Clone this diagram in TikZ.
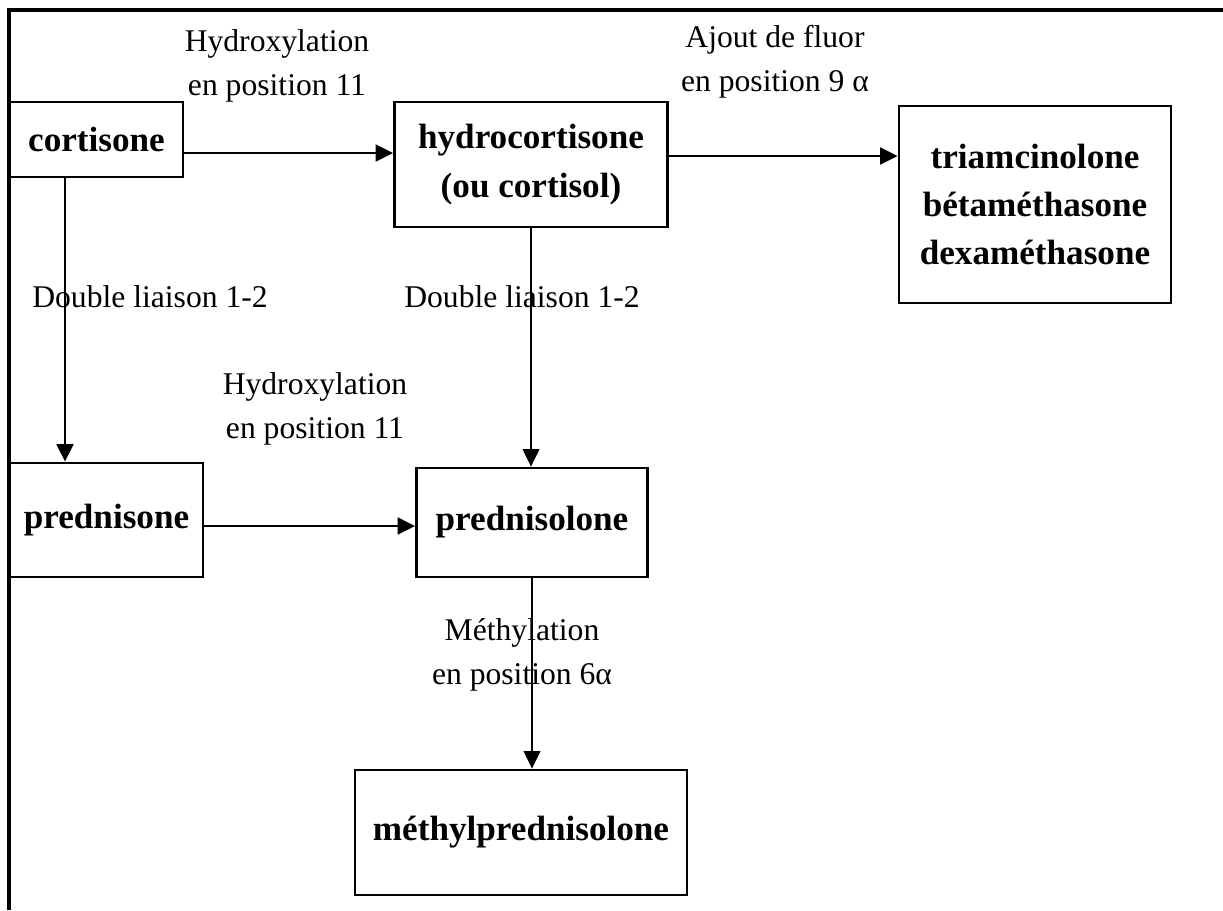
\documentclass[tikz,border=0pt]{standalone}
\usepackage{fontspec}
\setmainfont{Liberation Serif}
\usetikzlibrary{arrows.meta}

\begin{document}
\begin{tikzpicture}[line join=miter,x=0.02cm,y=-0.02cm,>={Triangle[length=10pt,width=9.5pt]},
    box/.style={draw,line width=1.6pt,inner sep=0pt,align=center,font=\fontsize{20}{27.5}\selectfont\bfseries},
    lbl/.style={align=center,inner sep=0pt,font=\fontsize{18}{25}\selectfont},
    fleche/.style={->,line width=1.6pt},
    fine/.style={->,line width=1pt}]
                \useasboundingbox (0,0) rectangle (1223,910);
                % cadre
                \draw [line width=2.3pt] (9,910)-- (9,10)-- (1223,10);
                % molecules
                \node [box,minimum width=3.46cm,minimum height=1.5cm] (cort) at (96.5,139.5) {cortisone};
                \node [box,minimum width=5.46cm,minimum height=2.5cm] (hydro) at (531,164.5) {hydrocortisone\\(ou cortisol)};
                \node [box,minimum width=5.44cm,minimum height=3.94cm] (triam) at (1035,204.5) {triamcinolone\\bétaméthasone\\dexaméthasone};
                \node [box,minimum width=3.86cm,minimum height=2.28cm] (pred) at (106.5,520) {prednisone};
                \node [box,minimum width=4.62cm,minimum height=2.18cm] (pnl) at (532,522.5) {prednisolone};
                \node [box,minimum width=6.64cm,minimum height=2.5cm] (mp) at (521,832.5) {méthylprednisolone};
                % niveaux des fleches
                \coordinate (hA) at (0,153);
                \coordinate (hB) at (0,156);
                \coordinate (hC) at (0,526);
                \coordinate (vA) at (65,0);
                \draw [fleche] (cort.east |- hA)-- (hydro.west |- hA);
                \draw [fleche] (hydro.east |- hB)-- (triam.west |- hB);
                \draw [fleche] (cort.south -| vA)-- (pred.north -| vA);
                \draw [fine] (hydro.south)-- (pnl.north -| hydro.south);
                \draw [fleche] (pred.east |- hC)-- (pnl.west |- hC);
                \draw [fine] (pnl.south)-- (mp.north -| pnl.south);
                % reactions
                \node [lbl] (hydroxA) at (277,66) {Hydroxylation\\en position 11};
                \node [lbl] (fluor) at (775,62) {Ajout de fluor\\en position 9 α};
                \node [lbl] (liaisonA) at (150,297) {Double liaison 1-2};
                \node [lbl] (liaisonB) at (522,297) {Double liaison 1-2};
                \node [lbl] (hydroxB) at (315,409) {Hydroxylation\\en position 11};
                \node [lbl] (methyl) at (522,655) {Méthylation\\en position 6α};
            \end{tikzpicture}
\end{document}
